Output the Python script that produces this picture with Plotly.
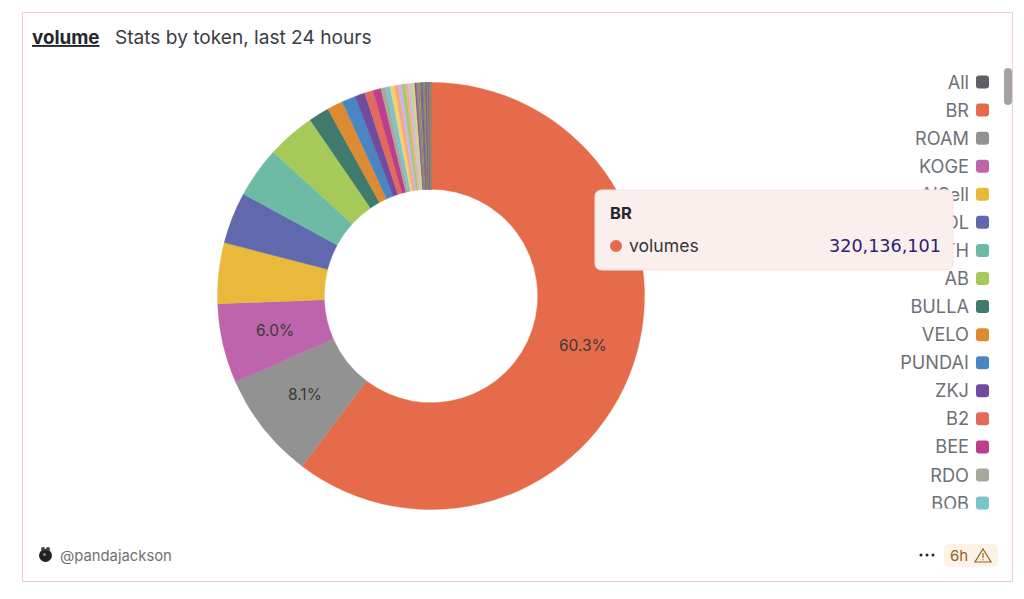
import math

import plotly.graph_objects as go

# legend order, first entry is the "All" toggle and has no slice
legend_labels = ["All", "BR", "ROAM", "KOGE", "AISell", "SOL", "ETH", "AB", "BULLA", "VELO",
                 "PUNDAI", "ZKJ", "B2", "BEE", "RDO", "BOB"]

big_volumes = [320136101, 43000000, 31900000, 24400000, 20700000, 20450000, 19400000, 8230000,
               6370000, 5570000, 3980000, 3450000, 3190000, 1860000, 1860000]
small_volumes = [1750000, 1560000, 1430000, 1300000, 1170000, 1060000, 900000, 700000,
                 340000, 320000, 300000, 290000, 280000, 270000, 260000, 250000, 240000, 230000,
                 220000, 210000, 200000, 190000, 180000, 170000, 160000, 150000, 145000, 140000,
                 135000, 130000, 125000, 120000, 115000, 110000, 105000, 100000, 95000, 90000,
                 85000, 80000, 75000, 70000, 65000, 60000, 55000, 50000, 45000, 40000, 35000,
                 30000, 25000, 20000, 15000]
labelled_slices = 3
footer_user = "@pandajackson"

big_colors = ["#E66B4A", "#929292", "#BE64AC", "#E9B93C", "#6069AE", "#6DBBA4", "#A5CA59", "#3F7A6C",
              "#DE8A33", "#4887C2", "#6F4C9F", "#E26A5C", "#BC3F8C", "#A8A99A", "#7CC4CC"]
small_colors = ["#F4D06F", "#F2A97E", "#CDB4E8", "#9CCB6B", "#F0B27A", "#D2B8EA", "#B7DB8A", "#F6C58F"]
noise_colors = ["#55565C", "#7E6BB5", "#B55C9C", "#5F9085", "#D0923C", "#5C68A8", "#95B85C", "#C9675A",
                "#3F7268", "#858585"]

volumes = big_volumes + small_volumes
labels = legend_labels[1:] + [f"token{i}" for i in range(len(small_volumes))]
colors = (big_colors + small_colors
          + [noise_colors[i % len(noise_colors)] for i in range(len(small_volumes) - len(small_colors))])
swatches = ["#5F6066"] + big_colors

W, H = 1024, 599
FONT = "Inter"
GREY = "#6E7076"


def rounded(x0, y0, x1, y1, r):
    return (f"M{x0+r},{y0} L{x1-r},{y0} Q{x1},{y0} {x1},{y0+r} L{x1},{y1-r} Q{x1},{y1} {x1-r},{y1} "
            f"L{x0+r},{y1} Q{x0},{y1} {x0},{y1-r} L{x0},{y0+r} Q{x0},{y0} {x0+r},{y0} Z")


fig = go.Figure()

cx, cy, radius = 431, 296, 213.5
fig.add_trace(go.Pie(
    labels=labels, values=volumes, textinfo="none",
    hole=0.5, sort=False, direction="clockwise", rotation=0, showlegend=False, hoverinfo="skip",
    # each slice stroked in its own colour, otherwise the tiny ones show white seams
    marker=dict(colors=colors, line=dict(color=colors, width=0.4)),
    domain=dict(x=[(cx - radius) / W, (cx + radius) / W], y=[(H - cy - radius) / H, (H - cy + radius) / H]),
))

# legend sits on the cartesian layer so that the tooltip shape can cover it
legend_y = [82 + 28.07 * i for i in range(len(legend_labels))]
fig.add_trace(go.Scatter(
    x=[969] * len(legend_labels), y=[y + 2 for y in legend_y], text=legend_labels, mode="text",
    textposition="middle left", textfont=dict(family=FONT, size=18.2, color=GREY),
    hoverinfo="skip", showlegend=False, cliponaxis=False,
))

shapes = [
    dict(type="rect", x0=22.5, x1=1012.5, y0=12.5, y1=581.5, line=dict(color="#F6CBBE", width=1),
         fillcolor="rgba(0,0,0,0)", layer="below"),
    # clips the last legend row
    dict(type="rect", x0=880, x1=970, y0=508.5, y1=530, line=dict(width=0), fillcolor="white"),
    # scrollbar
    dict(type="path", path=rounded(1004, 68, 1012, 105, 4), line=dict(width=0), fillcolor="#A1A3A8"),
    # tooltip
    dict(type="path", path=rounded(595, 190, 953, 270, 7), line=dict(color="#F3E4E1", width=1), fillcolor="#FBEFED"),
    dict(type="circle", x0=610, x1=622, y0=240, y1=252, line=dict(width=0), fillcolor=big_colors[0]),
    # age badge
    dict(type="path", path=rounded(944, 544, 998, 567, 5), line=dict(width=0), fillcolor="#FCF3E6"),
    dict(type="path", path="M983,549 L991,562 L975,562 Z", line=dict(color="#96601F", width=1.2),
         fillcolor="rgba(0,0,0,0)"),
    dict(type="line", x0=983, x1=983, y0=553, y1=558, line=dict(color="#96601F", width=1.2)),
    dict(type="circle", x0=982.3, x1=983.7, y0=559, y1=560.4, line=dict(width=0), fillcolor="#96601F"),
    # avatar
    dict(type="circle", x0=39, x1=52, y0=549, y1=562, line=dict(width=0), fillcolor="#222222"),
    dict(type="circle", x0=41, x1=45, y0=547, y1=551, line=dict(width=0), fillcolor="#444444"),
    dict(type="circle", x0=46, x1=50, y0=547, y1=551, line=dict(width=0), fillcolor="#444444"),
    dict(type="circle", x0=43, x1=46, y0=553, y1=556, line=dict(width=0), fillcolor="#888888"),
]
for x in (921, 927, 933):
    shapes.append(dict(type="circle", x0=x - 1.5, x1=x + 1.5, y0=553.5, y1=556.5, line=dict(width=0),
                       fillcolor="#24262B"))
for y, c in zip(legend_y, swatches):
    shapes.append(dict(type="path", path=rounded(976, y - 6.5, 989, y + 6.5, 3), line=dict(width=0), fillcolor=c))


def note(x, y, text, size, color, anchor="left", family=FONT):
    return dict(x=x, y=y, xref="x", yref="y", text=text, showarrow=False, xanchor=anchor, yanchor="middle",
                font=dict(family=family, size=size, color=color))


annotations = [
    note(30, 37, "<b><u>volume</u></b>", 18.8, "#24262B"),
    note(113, 37, "Stats by token, last 24 hours", 19.1, "#3A3C42"),
    note(608, 213, "<b>BR</b>", 16.5, "#24262B"),
    note(627, 245.5, "volumes", 17.6, "#33353A"),
    note(943, 245.5, f"{big_volumes[0]:,}", 17.6, "#2A2178", "right", "DejaVu Sans"),
    note(58, 555.5, footer_user, 14.8, "#6E7076"),
    note(948, 555, "6h", 15, "#96601F"),
]

# percent labels sit at the middle of the ring, only on the slices big enough for them
total = sum(volumes)
start = 0
for v in volumes[:labelled_slices]:
    mid = 2 * math.pi * (start + v / 2) / total
    ring = radius * 0.75
    annotations.append(note(cx + ring * math.sin(mid), cy - ring * math.cos(mid) - 1, f"{v / total:.1%}",
                            15.5, "#3A3A3A", "center"))
    start += v

fig.update_layout(
    width=W, height=H, margin=dict(l=0, r=0, t=0, b=0), autosize=False,
    paper_bgcolor="white", plot_bgcolor="white",
    xaxis=dict(range=[0, W], visible=False, fixedrange=True),
    yaxis=dict(range=[H, 0], visible=False, fixedrange=True),
    shapes=shapes, annotations=annotations,
)

fig.write_html("out.html", config=dict(displayModeBar=False),
               post_script="document.body.style.margin='0';")
